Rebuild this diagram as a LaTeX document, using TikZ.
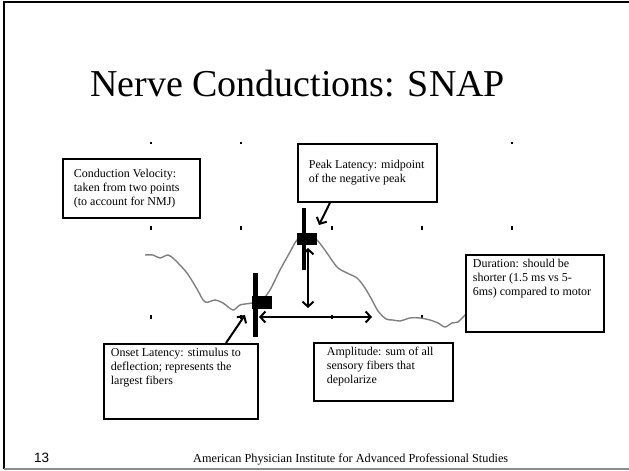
\documentclass[tikz,border=0pt]{standalone}
\usepackage{fontspec}
\setmainfont{Liberation Serif}
\newfontfamily\numfont{Liberation Sans}
\usetikzlibrary{arrows.meta}

\begin{document}
\begin{tikzpicture}[
    x=1pt, y=-1pt,
    note/.style={draw, line width=1.7pt, fill=white, anchor=north west,
                 inner xsep=7pt, inner ysep=4pt, font=\fontsize{12}{14}\selectfont},
    blk/.style={fill=black, inner sep=0pt},
    trace/.style={line width=1.4pt, black!50},
    tickmark/.style={line width=1.3pt},
    arr/.style={-{Straight Barb[length=5pt, width=11pt]}, line width=2pt},
    dbl/.style={{Straight Barb[length=5pt, width=11pt]}-{Straight Barb[length=5pt, width=11pt]},
                line width=2pt},
]
    \useasboundingbox (0,0) rectangle (629,471);

    %==================== FRAME ====================
    \draw[line width=2pt] (640,2) -- (4,2) -- (4,469);
    \draw[line width=2pt, black!45] (4,469) -- (640,469);

    %==================== TITLE ====================
    \node[anchor=base west, inner sep=0pt, font=\fontsize{38}{44}\selectfont]
        (title) at (90,96) {Nerve Conductions: SNAP};

    %==================== GRID TICKS ====================
    \foreach \x in {151,241,512}
        \draw[tickmark] (\x,142) -- (\x,144);
    \foreach \x in {151,241,332,422,512} {
        \draw[tickmark] (\x,226) -- (\x,230);
        \draw[tickmark] (\x,315) -- (\x,319);
    }

    %==================== SNAP TRACE ====================
    \draw[trace] plot[smooth, tension=0.5] coordinates {
        (145,255) (153,255) (160,258) (168,255) (175,260) (187,273) (197,289)
        (205,302) (215,300) (223,303) (233,310) (240,305) (252,303) (262,300)
        (270,290) (280,270) (290,252) (297,240) (307,234) (317,240) (327,253)
        (337,267) (347,273) (357,278) (365,288) (372,300) (378,311) (386,319)
        (393,320) (400,321) (410,318) (420,318) (430,320) (438,323) (445,327)
        (452,323) (458,322) (463,317) (468,312)};

    %==================== MARKERS ====================
    \node[blk, minimum width=20pt, minimum height=13pt] (onrect) at (262,302.5) {};
    \node[blk, minimum width=4.5pt, minimum height=64pt] (onbar) at (255.5,305) {};
    \node[blk, minimum width=20pt, minimum height=12pt] (pkrect) at (307,239) {};
    \node[blk, minimum width=4.5pt, minimum height=62pt] (pkbar) at (304,239) {};

    %==================== AMPLITUDE / DURATION ARROWS ====================
    \coordinate (vtop) at (308,248);
    \coordinate (vbot) at (308,308);
    \coordinate (hleft) at (259,317);
    \coordinate (hright) at (372,317);
    \draw[dbl] (vtop) -- (vbot);
    \draw[dbl] (hleft) -- (hright);

    %==================== NOTES ====================
    \node[note, inner xsep=11pt] (cv) at (62,158)
        {\parbox[t][51pt][c]{115pt}{\raggedright Conduction Velocity:\\
         taken from two points\\ (to account for NMJ)}};

    \node[note, inner xsep=11pt] (pk) at (297,143)
        {\parbox[t][50pt][c]{117pt}{\raggedright Peak Latency: midpoint\\
         of the negative peak}};

    \node[note] (du) at (465,254)
        {\parbox[t][69pt][t]{124pt}{\raggedright Duration: should be\\
         shorter (1.5 ms vs 5-\\ 6ms) compared to motor}};

    \node[note] (on) at (103,343)
        {\parbox[t][67pt][t]{140pt}{\raggedright Onset Latency: stimulus to\\
         deflection; represents the\\ largest fibers}};

    \node[note, inner xsep=13pt] (am) at (313,342)
        {\parbox[t][50pt][t]{113pt}{\raggedright Amplitude: sum of all\\
         sensory fibers that\\ depolarize}};

    %==================== POINTERS ====================
    \coordinate (ontip) at (245,315);
    \coordinate (pktip) at (319,225);
    \draw[arr] ([xshift=123pt]on.north west) -- (ontip);
    \draw[arr] ([xshift=33pt]pk.south west) -- (pktip);

    %==================== FOOTER ====================
    \node[anchor=base west, inner sep=0pt, font=\numfont\fontsize{13.5}{16}\selectfont]
        (pgno) at (34,462) {13};
    \node[anchor=base west, inner sep=0pt, font=\fontsize{12.25}{14}\selectfont]
        (foot) at (193,462) {American Physician Institute for Advanced Professional Studies};

\end{tikzpicture}
\end{document}
